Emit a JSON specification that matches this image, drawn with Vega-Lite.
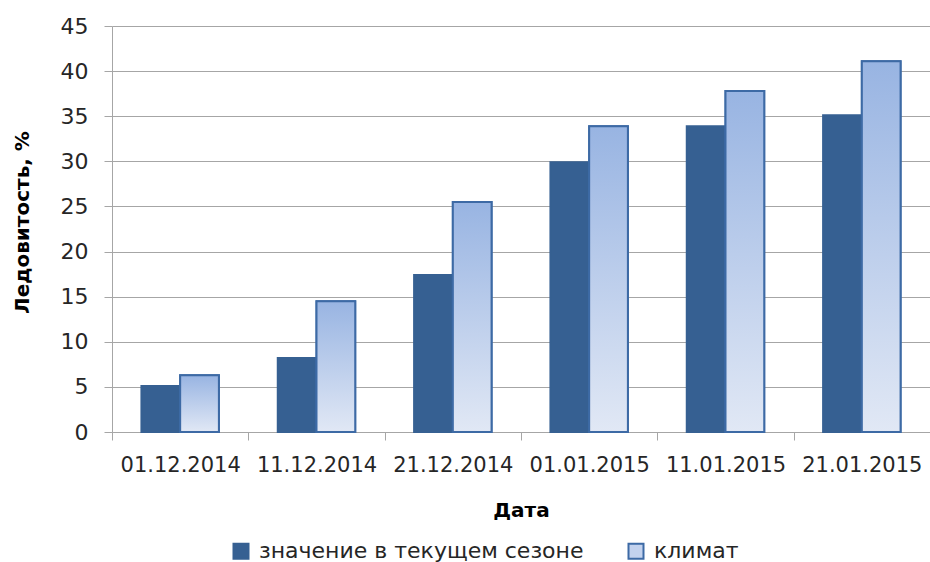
{
  "$schema": "https://vega.github.io/schema/vega-lite/v6.json",
  "width": 818,
  "height": 406,
  "autosize": {"type": "none"},
  "padding": {"left": 112, "top": 26, "right": 0, "bottom": 130},
  "config": {"font": "DejaVu Sans", "view": {"stroke": null}},
  "data": {
    "values": [
      {"date": "01.12.2014", "series": "значение в текущем сезоне", "value": 5.1},
      {"date": "01.12.2014", "series": "климат", "value": 6.3},
      {"date": "11.12.2014", "series": "значение в текущем сезоне", "value": 8.2},
      {"date": "11.12.2014", "series": "климат", "value": 14.5},
      {"date": "21.12.2014", "series": "значение в текущем сезоне", "value": 17.4},
      {"date": "21.12.2014", "series": "климат", "value": 25.5},
      {"date": "01.01.2015", "series": "значение в текущем сезоне", "value": 29.9},
      {"date": "01.01.2015", "series": "климат", "value": 33.9},
      {"date": "11.01.2015", "series": "значение в текущем сезоне", "value": 33.9},
      {"date": "11.01.2015", "series": "климат", "value": 37.8},
      {"date": "21.01.2015", "series": "значение в текущем сезоне", "value": 35.1},
      {"date": "21.01.2015", "series": "климат", "value": 41.1}
    ]
  },
  "encoding": {
    "x": {
      "field": "date", "type": "ordinal", "sort": null,
      "scale": {"paddingInner": 0, "paddingOuter": 0},
      "axis": {
        "title": "Дата", "labelAngle": 0, "tickBand": "extent",
        "tickSize": 8, "tickColor": "#a6a6a6", "domainColor": "#a6a6a6",
        "labelFontSize": 21, "labelColor": "#262626", "labelPadding": 14,
        "titleFontSize": 20, "titleFontWeight": "bold", "titleColor": "#000000", "titlePadding": 25
      }
    },
    "xOffset": {
      "field": "series", "type": "nominal",
      "scale": {"domain": ["значение в текущем сезоне", "климат"], "paddingInner": 0, "paddingOuter": 0.76}
    },
    "y": {
      "field": "value", "type": "quantitative",
      "scale": {"domain": [0, 45]},
      "axis": {
        "title": "Ледовитость, %", "values": [0, 5, 10, 15, 20, 25, 30, 35, 40, 45],
        "grid": true, "gridColor": "#a6a6a6", "domainColor": "#a6a6a6", "tickColor": "#a6a6a6",
        "tickSize": 8, "labelFontSize": 22, "labelColor": "#262626", "labelPadding": 16,
        "titleFontSize": 20, "titleFontWeight": "bold", "titleColor": "#000000", "titlePadding": 28,
        "titleY": 196
      }
    }
  },
  "layer": [
    {
      "mark": {"type": "bar", "strokeWidth": 2},
      "encoding": {
        "fill": {
          "field": "series", "type": "nominal",
          "scale": {"domain": ["значение в текущем сезоне", "климат"], "range": ["#366092", "#c3d2ee"]},
          "legend": {
            "title": null, "orient": "none", "direction": "horizontal",
            "legendX": 118, "legendY": 514,
            "symbolType": "square", "symbolSize": 225, "symbolStrokeWidth": 2,
            "labelFontSize": 22, "labelColor": "#262626", "labelLimit": 0,
            "columnPadding": 40, "labelOffset": 7
          }
        },
        "stroke": {
          "field": "series", "type": "nominal",
          "scale": {"domain": ["значение в текущем сезоне", "климат"], "range": ["#366092", "#3d6aa5"]},
          "legend": null
        }
      }
    },
    {
      "transform": [{"filter": "datum.series == 'климат'"}],
      "mark": {
        "type": "bar",
        "fill": {
          "gradient": "linear", "x1": 0, "y1": 0, "x2": 0, "y2": 1,
          "stops": [{"offset": 0, "color": "#98b4e2"}, {"offset": 1, "color": "#e1e8f5"}]
        },
        "stroke": "#3d6aa5", "strokeWidth": 2
      }
    }
  ]
}
